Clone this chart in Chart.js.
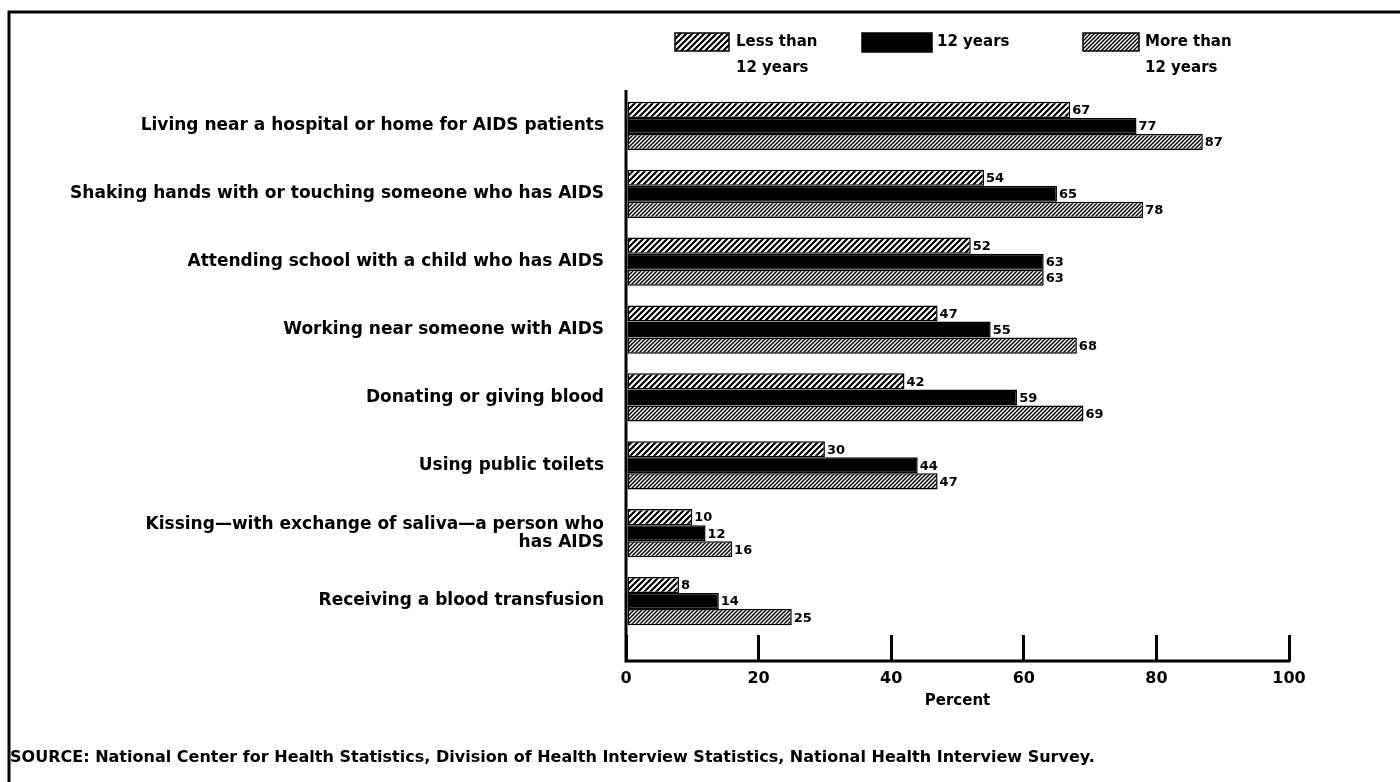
<!DOCTYPE html>
<html>
<head>
<meta charset="utf-8">
<script src="https://cdn.jsdelivr.net/npm/chart.js@4.4.1/dist/chart.umd.min.js"></script>
<style>
  body { margin: 0; background: #fff; }
  #wrap { width: 1400px; height: 782px; position: relative; }
</style>
</head>
<body>
<div id="wrap"><canvas id="aidsChart"></canvas></div>
<script>
// Data
const categories = [
    'Living near a hospital or home for AIDS patients',
    'Shaking hands with or touching someone who has AIDS',
    'Attending school with a child who has AIDS',
    'Working near someone with AIDS',
    'Donating or giving blood',
    'Using public toilets',
    ['Kissing\u2014with exchange of saliva\u2014a person who', 'has AIDS'],
    'Receiving a blood transfusion'
];
const seriesNames = [['Less than', '12 years'], ['12 years'], ['More than', '12 years']];
const lessThan12 = [67, 54, 52, 47, 42, 30, 10, 8];
const exactly12 = [77, 65, 63, 55, 59, 44, 12, 14];
const moreThan12 = [87, 78, 63, 68, 69, 47, 16, 25];
const xTicks = [0, 20, 40, 60, 80, 100];
const sourceNote = 'SOURCE: National Center for Health Statistics, Division of Health Interview Statistics, National Health Interview Survey.';

const FONT = '"DejaVu Sans", Verdana, sans-serif';
Chart.defaults.font.family = FONT;
Chart.defaults.color = '#000';

function hatch(size, width) {
    const c = document.createElement('canvas');
    c.width = size; c.height = size;
    const g = c.getContext('2d');
    g.fillStyle = '#fff';
    g.fillRect(0, 0, size, size);
    g.strokeStyle = '#000';
    g.lineWidth = width;
    g.beginPath();
    g.moveTo(0, size); g.lineTo(size, 0);
    g.moveTo(-size / 2, size / 2); g.lineTo(size / 2, -size / 2);
    g.moveTo(size / 2, size * 1.5); g.lineTo(size * 1.5, size / 2);
    g.stroke();
    return g.createPattern(c, 'repeat');
}

const ctx = document.getElementById('aidsChart').getContext('2d');
const fills = [hatch(6, 2.2), '#000', hatch(4, 1.5)];

const TICK_LEN = 26;

const decorPlugin = {
    id: 'decor',
    afterDatasetsDraw(chart) {
        const c = chart.ctx;
        const x = chart.scales.x;
        const area = chart.chartArea;
        const x0 = x.getPixelForValue(0);
        const x100 = x.getPixelForValue(100);
        const base = area.bottom + TICK_LEN;
        c.save();
        // axes
        c.strokeStyle = '#000';
        c.lineWidth = 3;
        c.beginPath();
        c.moveTo(x0, area.top - 2);
        c.lineTo(x0, base);
        c.lineTo(x100 + 1.5, base);
        c.stroke();

        // value labels
        c.font = 'bold 13px ' + FONT;
        c.fillStyle = '#000';
        c.textAlign = 'left';
        c.textBaseline = 'middle';
        chart.data.datasets.forEach((ds, i) => {
            chart.getDatasetMeta(i).data.forEach((bar, j) => {
                c.fillText(String(ds.data[j]), bar.x + 2, bar.y + 1);
            });
        });

        // legend
        const items = [
            { box: [675, 33, 54, 18], tx: 736 },
            { box: [862, 33, 70, 19], tx: 937 },
            { box: [1083, 33, 56, 18], tx: 1145 }
        ];
        c.font = 'bold 15px ' + FONT;
        c.textBaseline = 'middle';
        items.forEach((it, i) => {
            const [bx, by, bw, bh] = it.box;
            c.fillStyle = fills[i];
            c.fillRect(bx, by, bw, bh);
            c.lineWidth = 1.5;
            c.strokeStyle = '#000';
            c.strokeRect(bx, by, bw, bh);
            c.fillStyle = '#000';
            seriesNames[i].forEach((line, k) => {
                c.fillText(line, it.tx, 42 + k * 26);
            });
        });

        // source line, sized to run to the same width as the scan
        c.font = 'bold 13px ' + FONT;
        const size = 13 * 1086 / c.measureText(sourceNote).width;
        c.font = 'bold ' + size.toFixed(2) + 'px ' + FONT;
        c.fillText(sourceNote, 10, 758);

        // frame
        c.lineWidth = 3;
        c.beginPath();
        c.moveTo(9, 782);
        c.lineTo(9, 12);
        c.lineTo(1400, 12);
        c.stroke();
        c.restore();
    }
};

new Chart(ctx, {
    type: 'bar',
    data: {
        labels: categories,
        datasets: [lessThan12, exactly12, moreThan12].map((vals, i) => ({
            label: seriesNames[i].join(' '),
            data: vals,
            backgroundColor: fills[i],
            borderColor: '#000',
            borderWidth: 1.5,
            borderSkipped: false,
            categoryPercentage: 0.71,
            barPercentage: 1.0
        }))
    },
    options: {
        indexAxis: 'y',
        responsive: true,
        maintainAspectRatio: false,
        animation: false,
        layout: { padding: { top: 92, right: 111, bottom: 0, left: 0 } },
        plugins: {
            legend: { display: false },
            tooltip: { enabled: false }
        },
        scales: {
            x: {
                min: 0,
                max: 100,
                afterFit: (s) => { s.height = 147; },
                afterBuildTicks: (s) => { s.ticks = xTicks.map(v => ({ value: v })); },
                border: { display: false },
                grid: {
                    drawOnChartArea: false,
                    drawTicks: true,
                    tickLength: TICK_LEN,
                    lineWidth: 3,
                    color: '#000'
                },
                ticks: {
                    font: { size: 16, weight: 'bold' },
                    color: '#000',
                    padding: 8,
                    maxRotation: 0
                },
                title: {
                    display: true,
                    text: 'Percent',
                    font: { size: 15, weight: 'bold' },
                    color: '#000',
                    padding: { top: 0, bottom: 72 }
                }
            },
            y: {
                afterFit: (s) => { s.width = 626; },
                border: { display: false },
                grid: { display: false },
                ticks: {
                    font: { size: 17, weight: 'bold', lineHeight: 1.05 },
                    color: '#000',
                    padding: 14,
                    autoSkip: false
                }
            }
        }
    },
    plugins: [decorPlugin]
});
</script>
</body>
</html>
